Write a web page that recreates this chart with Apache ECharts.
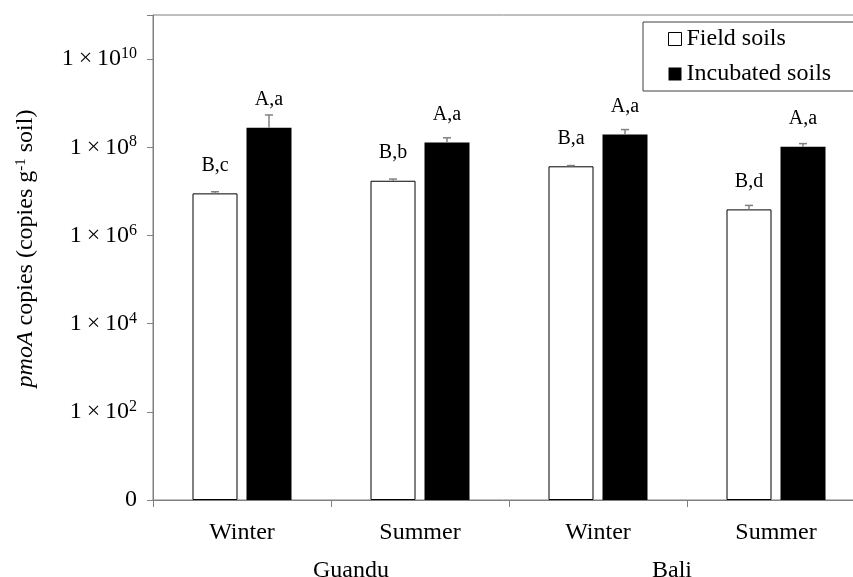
<!DOCTYPE html>
<html>
<head>
<meta charset="utf-8">
<script src="https://cdn.jsdelivr.net/npm/echarts@6/dist/echarts.min.js"></script>
<style>html,body{margin:0;padding:0;background:#fff;}#c{width:853px;height:577px;}</style>
</head>
<body>
<div id="c"></div>
<script>
// ---- data ----
const seasons = ['Winter', 'Summer', 'Winter', 'Summer'];
const sites = ['Guandu', 'Bali'];
const fieldSoils = [9.0e6, 1.74e7, 3.7e7, 3.9e6];
const fieldErrTop = [9.8e6, 1.9e7, 3.85e7, 4.8e6];
const incubatedSoils = [2.77e8, 1.29e8, 1.94e8, 1.03e8];
const incubatedErrTop = [5.4e8, 1.64e8, 2.52e8, 1.21e8];
const fieldLetters = ['B,c', 'B,b', 'B,a', 'B,d'];
const incubatedLetters = ['A,a', 'A,a', 'A,a', 'A,a'];
const yMin = 1, yMax = 1e11;

// ---- style ----
const FONT = 'Liberation Serif, Times New Roman, serif';
const GRAY = '#808080';
const BAR_W = 45, BAR_GAP = 9;

function errSeries(tops, bars, side) {
  return {
    type: 'custom',
    silent: true,
    z: 5,
    data: tops.map((t, i) => [i, t, bars[i]]),
    renderItem: function (params, api) {
      const c = api.coord([api.value(0), api.value(1)]);
      const b = api.coord([api.value(0), api.value(2)]);
      const x = c[0] + side * (BAR_W + BAR_GAP) / 2;
      const st = { stroke: GRAY, lineWidth: 1.5 };
      return {
        type: 'group',
        children: [
          { type: 'line', shape: { x1: x, y1: b[1], x2: x, y2: c[1] }, style: st },
          { type: 'line', shape: { x1: x - 4, y1: c[1], x2: x + 4, y2: c[1] }, style: st }
        ]
      };
    }
  };
}

const chart = echarts.init(document.getElementById('c'));
chart.setOption({
  animation: false,
  backgroundColor: '#fff',
  textStyle: { fontFamily: FONT, color: '#000' },
  grid: { left: 153, top: 15, width: 712, height: 485, outerBoundsMode: 'none', containLabel: false,
    show: true, borderColor: GRAY, borderWidth: 1, backgroundColor: 'transparent' },
  legend: {
    orient: 'vertical', left: 643, top: 22,
    padding: [5, 60, 5, 25],
    itemGap: 11, itemWidth: 13, itemHeight: 13,
    borderColor: '#404040', borderWidth: 1,
    textStyle: { fontFamily: FONT, fontSize: 24, lineHeight: 24, color: '#000' },
    data: [
      { name: 'Field soils', icon: 'rect', itemStyle: { color: '#fff', borderColor: '#000', borderWidth: 1 } },
      { name: 'Incubated soils', icon: 'rect', itemStyle: { color: '#000' } }
    ]
  },
  xAxis: [
    {
      type: 'category', data: seasons, position: 'bottom',
      axisLine: { lineStyle: { color: GRAY, width: 1 } },
      axisTick: { show: true, length: 7, lineStyle: { color: GRAY } },
      axisLabel: { fontFamily: FONT, fontSize: 24, lineHeight: 24, color: '#000', margin: 21 }
    },
    {
      type: 'category', data: sites, position: 'bottom',
      axisLine: { show: false }, axisTick: { show: false },
      axisLabel: {
        fontFamily: FONT, fontSize: 24, lineHeight: 24, color: '#000', margin: 59,
        formatter: (v, i) => (i === 0 ? '{g|' + v + '}' : '{b|' + v + '}'),
        rich: {
          g: { fontFamily: FONT, fontSize: 24, color: '#000', padding: [0, 0, 0, 40] },
          b: { fontFamily: FONT, fontSize: 24, color: '#000', padding: [0, 30, 0, 0] }
        }
      }
    }
  ],
  yAxis: {
    type: 'log', logBase: 10, min: yMin, max: yMax, interval: 2,
    name: '{i|pmoA} copies (copies g{s|-1} soil)',
    nameLocation: 'middle', nameGap: 115, nameRotate: 90,
    nameTextStyle: {
      fontFamily: FONT, fontSize: 24, color: '#000', padding: [0, 0, 0, 18],
      rich: {
        i: { fontFamily: FONT, fontSize: 24, fontStyle: 'italic', color: '#000' },
        s: { fontFamily: FONT, fontSize: 15, lineHeight: 15, verticalAlign: 'top', color: '#000' }
      }
    },
    axisLine: { show: true, lineStyle: { color: GRAY, width: 1 } },
    axisTick: { show: true, length: 6, lineStyle: { color: GRAY } },
    splitLine: { show: false },
    axisLabel: {
      margin: 16,
      formatter: function (v) {
        const e = Math.round(Math.log10(v));
        if (e === 0) return '{m|0}';
        if (e % 2 !== 0 || e > 10) return '';
        return '{m|1\u2009×\u200910}{s|' + e + '}';
      },
      rich: {
        m: { fontFamily: FONT, fontSize: 24, lineHeight: 26, color: '#000' },
        s: { fontFamily: FONT, fontSize: 16, lineHeight: 16, verticalAlign: 'top', color: '#000' }
      }
    }
  },
  series: [
    {
      name: 'Field soils', type: 'bar', data: fieldSoils, barWidth: BAR_W, barGap: (BAR_GAP / BAR_W * 100) + '%',
      itemStyle: { color: '#fff', borderColor: '#000', borderWidth: 1 },
      label: { show: true, position: 'top', distance: 18, fontFamily: FONT, fontSize: 20, color: '#000',
        formatter: p => fieldLetters[p.dataIndex] }
    },
    {
      name: 'Incubated soils', type: 'bar', data: incubatedSoils, barWidth: BAR_W,
      itemStyle: { color: '#000' },
      label: { show: true, position: 'top', distance: 18, fontFamily: FONT, fontSize: 20, color: '#000',
        formatter: p => incubatedLetters[p.dataIndex] }
    },
    errSeries(fieldErrTop, fieldSoils, -1),
    errSeries(incubatedErrTop, incubatedSoils, 1)
  ]
});
</script>
</body>
</html>
